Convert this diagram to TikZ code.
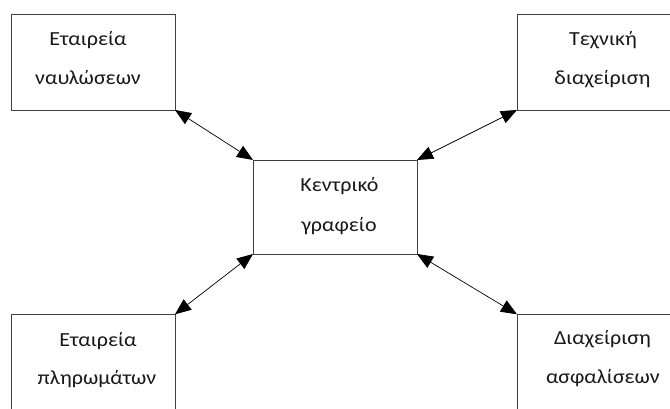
\documentclass[tikz,border=0pt]{standalone}
\usepackage{fontspec}
\setmainfont{Carlito}
\newfontfamily\boxfont[FakeStretch=1.1]{Carlito}
\usetikzlibrary{arrows.meta}
\begin{document}
\begin{tikzpicture}[x=1pt,y=1pt,
  unitbox/.style={draw=black!75,line width=0.8pt,rectangle,inner sep=0pt,outer sep=0pt},
  label/.style={anchor=base,inner sep=0pt,font=\boxfont\fontsize{20}{22}\selectfont,text=black!90},
  link/.style={line width=0.7pt,{Triangle[length=16pt,width=13pt]}-{Triangle[length=16pt,width=13pt]}}]
\useasboundingbox (0,0) rectangle (670,409);
% boxes
\node[unitbox,minimum width=164pt,minimum height=95.3pt] (tl) at (93,346.65) {};
\node[unitbox,minimum width=155pt,minimum height=95.3pt] (tr) at (594.5,346.65) {};
\node[unitbox,minimum width=164pt,minimum height=94pt] (c) at (335,202) {};
\node[unitbox,minimum width=164pt,minimum height=99.7pt] (bl) at (93,44.85) {};
\node[unitbox,minimum width=155pt,minimum height=99.7pt] (br) at (594.5,44.85) {};
% texts
\node[label] (tl1) at (88,363.3) {Εταιρεία};
\node[label] (tl2) at (88,324) {ναυλώσεων};
\node[label] (tr1) at (603,363.3) {Τεχνική};
\node[label] (tr2) at (602.5,324) {διαχείριση};
\node[label] (c1) at (339.5,217.5) {Κεντρικό};
\node[label] (c2) at (339,177.3) {γραφείο};
\node[label] (bl1) at (98,62.3) {Εταιρεία};
\node[label] (bl2) at (97,24) {πληρωμάτων};
\node[label] (br1) at (602.5,64) {Διαχείριση};
\node[label] (br2) at (603,25) {ασφαλίσεων};
% connectors
\draw[link] (tl.south east) -- (c.north west);
\draw[link] (tr.south west) -- (c.north east);
\draw[link] (bl.north east) -- (c.south west);
\draw[link] (br.north west) -- (c.south east);
\end{tikzpicture}
\end{document}
